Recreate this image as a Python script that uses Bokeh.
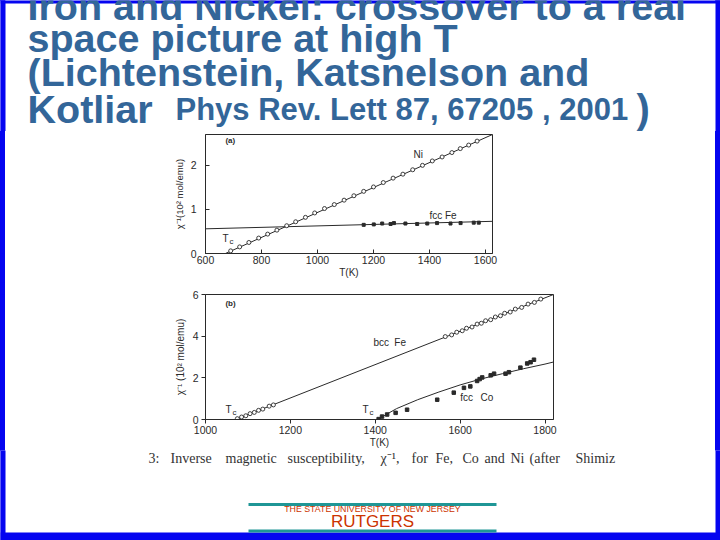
from bokeh.plotting import figure
from bokeh.layouts import column, row
from bokeh.models import Range1d, FixedTicker
from bokeh.core.properties import value
from bokeh.embed import file_html
from bokeh.resources import INLINE

# ---------------- data ----------------
# panel (a): Ni and fcc Fe
ni_T = [690, 722, 755, 790, 822, 855, 890, 922, 957, 990, 1025, 1060, 1095, 1130,
        1165, 1200, 1235, 1270, 1305, 1340, 1375, 1410, 1445, 1480, 1510, 1540, 1570]
ni_chi = [0.06, 0.15, 0.25, 0.35, 0.44, 0.53, 0.63, 0.72, 0.82, 0.92, 1.02, 1.11, 1.21, 1.31,
          1.41, 1.51, 1.61, 1.71, 1.80, 1.90, 2.00, 2.10, 2.19, 2.29, 2.38, 2.46, 2.55]
ni_fit_T = [671, 1625]
ni_fit_chi = [0.0, 2.70]

fefcc_T = [1165, 1201, 1231, 1261, 1273, 1314, 1356, 1392, 1427, 1475, 1511, 1558, 1576]
fefcc_chi = [0.65, 0.66, 0.68, 0.67, 0.69, 0.68, 0.67, 0.68, 0.69, 0.68, 0.69, 0.70, 0.70]
fefcc_fit_T = [600, 1625]
fefcc_fit_chi = [0.56, 0.73]

# panel (b): bcc Fe and fcc Co
febcc_T = [1075, 1085, 1095, 1105, 1115, 1125, 1135, 1150, 1160,
           1565, 1580, 1592, 1605, 1615, 1628, 1640, 1650, 1660, 1672,
           1683, 1695, 1705, 1718, 1730, 1745, 1760, 1775, 1790]
febcc_chi = [0.04, 0.12, 0.18, 0.28, 0.34, 0.44, 0.50, 0.64, 0.70,
             3.98, 4.06, 4.19, 4.26, 4.38, 4.44, 4.58, 4.62, 4.74, 4.79,
             4.92, 4.98, 5.10, 5.16, 5.30, 5.38, 5.54, 5.62, 5.78]
febcc_fit_T = [1071, 1820]
febcc_fit_chi = [0.0, 6.0]

co_T = [1408, 1416, 1428, 1448, 1475, 1546, 1585, 1609, 1624, 1640, 1646, 1652,
        1672, 1680, 1707, 1715, 1742, 1758, 1766, 1774]
co_chi = [0.02, 0.14, 0.24, 0.32, 0.47, 0.95, 1.29, 1.52, 1.59, 1.85, 1.94, 2.02,
          2.12, 2.20, 2.20, 2.27, 2.49, 2.69, 2.75, 2.87]
co_fit_T = [1405, 1450, 1500, 1550, 1600, 1650, 1700, 1750, 1800, 1820]
co_fit_chi = [0.0, 0.52, 0.95, 1.32, 1.66, 1.95, 2.20, 2.44, 2.66, 2.76]

xticks_a = [600, 800, 1000, 1200, 1400, 1600]
yticks_a = [0, 1, 2]
xticks_b = [1000, 1200, 1400, 1600, 1800]
yticks_b = [0, 2, 4, 6]

title_lines = ["Iron and Nickel: crossover to a real",
               "space picture at high T",
               "(Lichtenstein, Katsnelson and",
               "Kotliar"]
title_ref = "Phys Rev. Lett 87, 67205 , 2001"
caption_words = ["3:", "Inverse", "magnetic", "susceptibility,", "\u03c7\u207b\u00b9,", "for",
                 "Fe,", "Co", "and", "Ni", "(after", "Shimiz"]

TITLE_C = "#336699"
BLUE = "#0505f0"
TEAL = "#1f9696"
RED = "#cc3300"
INK = "#2a2a2a"
SANS = "Liberation Sans"

# slide layout (pixels of the 720x540 slide; text centres)
title_y = [5, 37, 71, 108]
caption_x = [148, 170, 225, 287, 380, 411, 435, 462, 484, 510, 529, 575]


def slide_fig(w, h, y0, y1):
    p = figure(width=w, height=h, x_range=Range1d(0, 720), y_range=Range1d(y1, y0),
               toolbar_location=None, output_backend="svg", min_border=0, title=None,
               x_axis_location=None, y_axis_location=None)
    p.grid.visible = False
    p.outline_line_color = None
    p.background_fill_color = "white"
    p.border_fill_color = "white"
    return p


def strip(h):
    s = figure(width=5, height=h, x_range=Range1d(0, 1), y_range=Range1d(0, 1),
               toolbar_location=None, output_backend="svg", min_border=0, title=None,
               x_axis_location=None, y_axis_location=None)
    s.grid.visible = False
    s.outline_line_color = None
    s.background_fill_color = BLUE
    s.border_fill_color = BLUE
    s.quad(left=[-1], right=[2], bottom=[-1], top=[2], fill_color=BLUE, line_color=None)
    return s


# ---------------- title ----------------
ft = slide_fig(720, 131, 0, 131)
ft.quad(left=[0, 715, 0], right=[5, 720, 720], top=[-2, -2, -2], bottom=[133, 133, 3],
        fill_color=BLUE, line_color=None)
ft.text(x=[27, 27, 27, 27], y=title_y, text=title_lines,
        text_font=value(SANS), text_font_style="bold", text_font_size="39.5px",
        text_color=TITLE_C, text_baseline="middle")
ft.text(x=[175], y=[109], text=[title_ref], text_font=value(SANS), text_font_style="bold",
        text_font_size="31px", text_color=TITLE_C, text_baseline="middle")
ft.text(x=[636], y=[108], text=[")"], text_font=value(SANS), text_font_style="bold",
        text_font_size="40px", text_color=TITLE_C, text_baseline="middle")


def style_panel(p, xt, yt, tick_in, tick_out, lab_stand, ylab_stand):
    p.grid.visible = False
    p.outline_line_color = INK
    p.outline_line_width = 1
    p.xaxis.ticker = FixedTicker(ticks=xt)
    p.yaxis.ticker = FixedTicker(ticks=yt)
    p.axis.minor_tick_line_color = None
    p.axis.axis_line_color = INK
    p.axis.major_tick_line_color = INK
    p.axis.major_tick_in = tick_in
    p.axis.major_tick_out = tick_out
    p.axis.major_label_text_font = SANS
    p.axis.major_label_text_font_size = "10.5px"
    p.axis.major_label_text_color = INK
    p.xaxis.major_label_standoff = 2
    p.yaxis.major_label_standoff = lab_stand
    p.axis.axis_label_text_font = SANS
    p.axis.axis_label_text_font_style = "normal"
    p.axis.axis_label_text_color = INK
    p.xaxis.axis_label = "T(K)"
    p.xaxis.axis_label_text_font_size = "10px"
    p.xaxis.axis_label_standoff = 0
    p.yaxis.axis_label_standoff = ylab_stand


def tc_label(p, xs, ys):
    p.text(x=xs, y=ys, text=["T"] * len(xs), text_font=value(SANS), text_font_size="10px",
           text_color=INK, text_baseline="middle")
    p.text(x=xs, y=ys, text=["c"] * len(xs), text_font=value(SANS), text_font_size="8px",
           text_color=INK, text_baseline="middle", x_offset=7, y_offset=3)


# ---------------- panel (a) ----------------
pa = figure(width=710, height=151, x_range=Range1d(600, 1625), y_range=Range1d(0, 2.7),
            toolbar_location=None, output_backend="svg", title=None,
            min_border_left=200, min_border_right=223, min_border_top=3, min_border_bottom=29)
style_panel(pa, xticks_a, yticks_a, 4, 0, 9, 3)
pa.yaxis.axis_label = "\u03c7\u207b\u00b9(10\u00b2 mol/emu)"
pa.yaxis.axis_label_text_font_size = "9.5px"
pa.line(ni_fit_T, ni_fit_chi, line_color=INK, line_width=1)
pa.line(fefcc_fit_T, fefcc_fit_chi, line_color=INK, line_width=1)
pa.scatter(ni_T, ni_chi, marker="circle", size=4, fill_color="white", line_color=INK, line_width=0.9)
pa.scatter(fefcc_T, fefcc_chi, marker="square", size=3, fill_color=INK, line_color=INK)
pa.text(x=[671], y=[2.56], text=["(a)"], text_font=value(SANS), text_font_size="8px",
        text_font_style="bold", text_color=INK, text_baseline="middle")
pa.text(x=[1343, 1400, 1455], y=[2.25, 0.86, 0.86], text=["Ni", "fcc", "Fe"], text_font=value(SANS),
        text_font_size="10px", text_color=INK, text_baseline="middle")
tc_label(pa, [661], [0.34])

# ---------------- panel (b) ----------------
pb = figure(width=710, height=168, x_range=Range1d(1000, 1820), y_range=Range1d(0, 6),
            toolbar_location=None, output_backend="svg", title=None,
            min_border_left=200, min_border_right=162, min_border_top=12, min_border_bottom=23)
style_panel(pb, xticks_b, yticks_b, 0, 4, 3, 4)
pb.yaxis.axis_label = "\u03c7\u207b\u00b9 (10\u00b2 mol/emu)"
pb.yaxis.axis_label_text_font_size = "10px"
pb.line(febcc_fit_T, febcc_fit_chi, line_color=INK, line_width=1)
pb.line(co_fit_T, co_fit_chi, line_color=INK, line_width=1)
pb.scatter(febcc_T, febcc_chi, marker="circle", size=4, fill_color="white", line_color=INK, line_width=0.9)
pb.scatter(co_T, co_chi, marker="square", size=3.5, fill_color=INK, line_color=INK)
pb.text(x=[1047], y=[5.55], text=["(b)"], text_font=value(SANS), text_font_size="8px",
        text_font_style="bold", text_color=INK, text_baseline="middle")
pb.text(x=[1396, 1445, 1600, 1648], y=[3.7, 3.7, 1.08, 1.08], text=["bcc", "Fe", "fcc", "Co"],
        text_font=value(SANS), text_font_size="10px", text_color=INK, text_baseline="middle")
tc_label(pb, [1047, 1370], [0.5, 0.5])

# ---------------- footer ----------------
ff = slide_fig(720, 90, 450, 540)
ff.quad(left=[0, 715, 0], right=[5, 720, 720], top=[448, 448, 532], bottom=[542, 542, 542],
        fill_color=BLUE, line_color=None)
ff.text(x=caption_x, y=[458] * len(caption_words), text=caption_words,
        text_font=value("Liberation Serif"), text_font_size="14px", text_color="#333333",
        text_baseline="middle")
ff.segment(x0=[248, 248], y0=[504, 530.5], x1=[496, 496], y1=[504, 530.5],
           line_color=TEAL, line_width=3)
ff.text(x=[372], y=[508], text=["THE STATE UNIVERSITY OF NEW JERSEY"], text_font=value(SANS),
        text_font_size="8.8px", text_color=RED, text_align="center", text_baseline="middle")
ff.text(x=[372], y=[521], text=["RUTGERS"], text_font=value(SANS), text_font_size="17px",
        text_color=RED, text_align="center", text_baseline="middle")

edge_bg = {"background": f"linear-gradient(to right, {BLUE} 0px, {BLUE} 5px, white 5px, "
                         f"white 715px, {BLUE} 715px, {BLUE} 720px)"}
layout = column(ft,
                row(strip(151), pa, strip(151)),
                row(strip(168), pb, strip(168)),
                ff, styles=edge_bg)

open("out.html", "w").write(file_html(layout, INLINE))
